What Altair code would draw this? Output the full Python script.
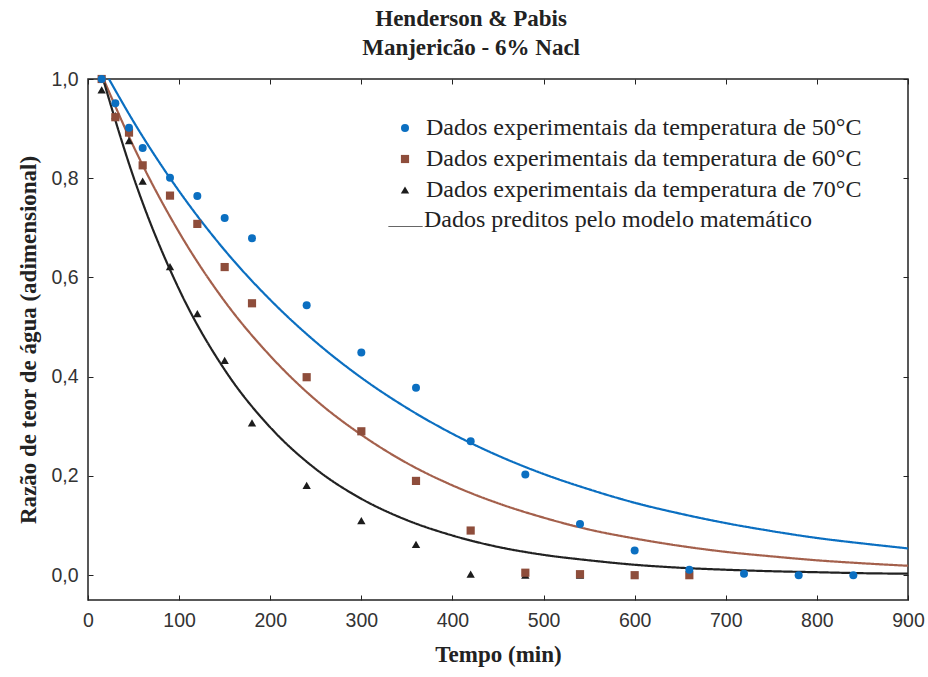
import altair as alt
import pandas as pd

serie_labels = [
    "Dados experimentais da temperatura de 50°C",
    "Dados experimentais da temperatura de 60°C",
    "Dados experimentais da temperatura de 70°C",
]
modelo_label = "Dados preditos pelo modelo matemático"

t50 = [15, 30, 45, 60, 90, 120, 150, 180, 240, 300, 360, 420, 480, 540, 600, 660, 720, 780, 840]
mr50 = [1.0, 0.951, 0.902, 0.861, 0.801, 0.764, 0.72, 0.679, 0.544, 0.449, 0.378, 0.27, 0.203, 0.103, 0.05, 0.011, 0.003, 0.0, 0.0]

t60 = [15, 30, 45, 60, 90, 120, 150, 180, 240, 300, 360, 420, 480, 540, 600, 660]
mr60 = [1.0, 0.923, 0.892, 0.826, 0.765, 0.708, 0.621, 0.548, 0.399, 0.29, 0.19, 0.09, 0.005, 0.002, 0.0, 0.0]

t70 = [15, 30, 45, 60, 90, 120, 150, 180, 240, 300, 360, 420, 480, 540]
mr70 = [0.978, 0.926, 0.876, 0.794, 0.622, 0.527, 0.433, 0.307, 0.181, 0.11, 0.062, 0.002, 0.0, 0.0]

# ---- model curves ----
tf50 = [23, 50, 100, 150, 200, 250, 300, 350, 400, 450, 500, 550, 600, 650, 700, 750, 800, 850, 900]
mf50 = [1.0, 0.914, 0.774, 0.655, 0.555, 0.470, 0.398, 0.337, 0.285, 0.241, 0.204, 0.173, 0.146, 0.124, 0.105, 0.089, 0.075, 0.064, 0.054]

tf60 = [17, 50, 100, 150, 200, 250, 300, 350, 400, 450, 500, 550, 600, 650, 700, 750, 800, 850, 900]
mf60 = [1.0, 0.864, 0.691, 0.552, 0.442, 0.353, 0.283, 0.226, 0.181, 0.145, 0.116, 0.092, 0.074, 0.059, 0.047, 0.038, 0.030, 0.024, 0.019]

tf70 = [16.5, 50, 100, 150, 200, 250, 300, 350, 400, 450, 500, 550, 600, 650, 700, 750, 800, 850, 900]
mf70 = [1.0, 0.802, 0.576, 0.414, 0.298, 0.214, 0.154, 0.111, 0.080, 0.057, 0.041, 0.030, 0.021, 0.015, 0.011, 0.008, 0.006, 0.004, 0.003]

x_ticks = [0, 100, 200, 300, 400, 500, 600, 700, 800, 900]
y_ticks = [0.0, 0.2, 0.4, 0.6, 0.8, 1.0]

point_colors = ["#0b6fc1", "#8e4d3b", "#1c1c1c"]
line_colors = ["#0b6fc1", "#a4604c", "#222222"]
shapes = ["circle", "square", "triangle-up"]

# build tables (70 first so circles are drawn on top)
rows = []
for lab, ts, vs in reversed(list(zip(serie_labels, [t50, t60, t70], [mr50, mr60, mr70]))):
    for t, v in zip(ts, vs):
        rows.append({"t": t, "mr": v, "serie": lab})
points_df = pd.DataFrame(rows)

frows = []
for lab, ts, vs in zip(serie_labels, [tf50, tf60, tf70], [mf50, mf60, mf70]):
    for t, v in zip(ts, vs):
        frows.append({"t": t, "mr": v, "curva": lab, "modelo": modelo_label})
lines_df = pd.DataFrame(frows)

W, H = 820, 521
xscale = alt.Scale(domain=[0, 900], nice=False, zero=False)
yscale = alt.Scale(domain=[-0.05, 1.0], nice=False, zero=False)
comma = "replace(format(datum.value, '.1f'), '.', ',')"

label_font = "Liberation Sans"
serif = "Liberation Serif"

points = alt.Chart(points_df).mark_point(filled=True, opacity=1).encode(
    x=alt.X("t:Q", scale=xscale, axis=alt.Axis(
        title="Tempo (min)", values=x_ticks, ticks=False, domain=False, grid=False,
        labelFlush=False, labelOverlap=False,
        labelFont=label_font, labelFontSize=19.5, labelColor="#333", labelPadding=11,
        titleFont=serif, titleFontSize=23, titleFontWeight="bold", titleColor="#222",
        titlePadding=14)),
    y=alt.Y("mr:Q", scale=yscale, axis=alt.Axis(
        title="Razão de teor de água (adimensional)", values=y_ticks, labelExpr=comma,
        ticks=False, domain=False, grid=False, labelFlush=False, labelOverlap=False,
        labelFont=label_font, labelFontSize=19.5, labelColor="#333", labelPadding=10,
        titleFont=serif, titleFontSize=23, titleFontWeight="bold", titleColor="#222",
        titlePadding=10)),
    color=alt.Color("serie:N", scale=alt.Scale(domain=serie_labels, range=point_colors),
                    legend=alt.Legend(title=None, orient="none", legendX=305, legendY=37,
                                      labelFont=serif, labelFontSize=24,
                                      symbolSize=30, rowPadding=7, labelOffset=9,
                                      labelLimit=700, symbolStrokeWidth=0)),
    shape=alt.Shape("serie:N", scale=alt.Scale(domain=serie_labels, range=shapes)),
    size=alt.Size("serie:N", scale=alt.Scale(domain=serie_labels, range=[64, 70, 42]), legend=None),
)

lines = alt.Chart(lines_df).mark_line(strokeWidth=2.2, interpolate="monotone", clip=True).encode(
    x=alt.X("t:Q", scale=xscale, axis=alt.Axis(
        orient="top", offset=-H, labels=False, title=None, values=x_ticks,
        tickSize=5, tickColor="#222", domain=False, grid=False)),
    y=alt.Y("mr:Q", scale=yscale, axis=alt.Axis(
        orient="right", offset=-W, labels=False, title=None, values=y_ticks,
        tickSize=5, tickColor="#222", domain=False, grid=False)),
    color=alt.Color("curva:N", scale=alt.Scale(domain=serie_labels, range=line_colors), legend=None),
    strokeDash=alt.StrokeDash("modelo:N", scale=alt.Scale(domain=[modelo_label], range=[[1, 0]]),
                              legend=alt.Legend(title=None, orient="none", legendX=300, legendY=130,
                                                labelFont=serif, labelFontSize=24,
                                                symbolType="stroke", symbolSize=1156,
                                                symbolStrokeColor="#333", symbolStrokeWidth=1,
                                                labelBaseline="alphabetic", labelOffset=1,
                                                labelLimit=700)),
)

ticks_layer = alt.Chart(points_df).mark_point(opacity=0).encode(
    x=alt.X("t:Q", scale=xscale, axis=alt.Axis(
        orient="bottom", offset=-H, labels=False, title=None, values=x_ticks,
        tickSize=5, tickColor="#222", domain=False, grid=False)),
    y=alt.Y("mr:Q", scale=yscale, axis=alt.Axis(
        orient="left", offset=-W, labels=False, title=None, values=y_ticks,
        tickSize=5, tickColor="#222", domain=False, grid=False)),
)

chart = alt.layer(lines, ticks_layer, points).resolve_scale(
    color="independent", shape="independent", size="independent", strokeDash="independent"
).resolve_axis(x="independent", y="independent").properties(
    width=W, height=H,
    title=alt.Title(["Henderson & Pabis", "Manjericão - 6% Nacl"], font=serif, fontSize=23,
                    fontWeight="bold", color="#222", anchor="middle", frame="bounds",
                    lineHeight=29, offset=9),
    autosize=alt.AutoSizeParams(type="none"),
    padding={"left": 88, "top": 79, "right": 20, "bottom": 77},
    background="white",
).configure_view(stroke="#222", strokeWidth=1.5).configure_legend(
    labelFont=serif, labelFontSize=24, labelColor="#222"
)

chart.save("out.html", embed_options={"renderer": "svg", "actions": False})
